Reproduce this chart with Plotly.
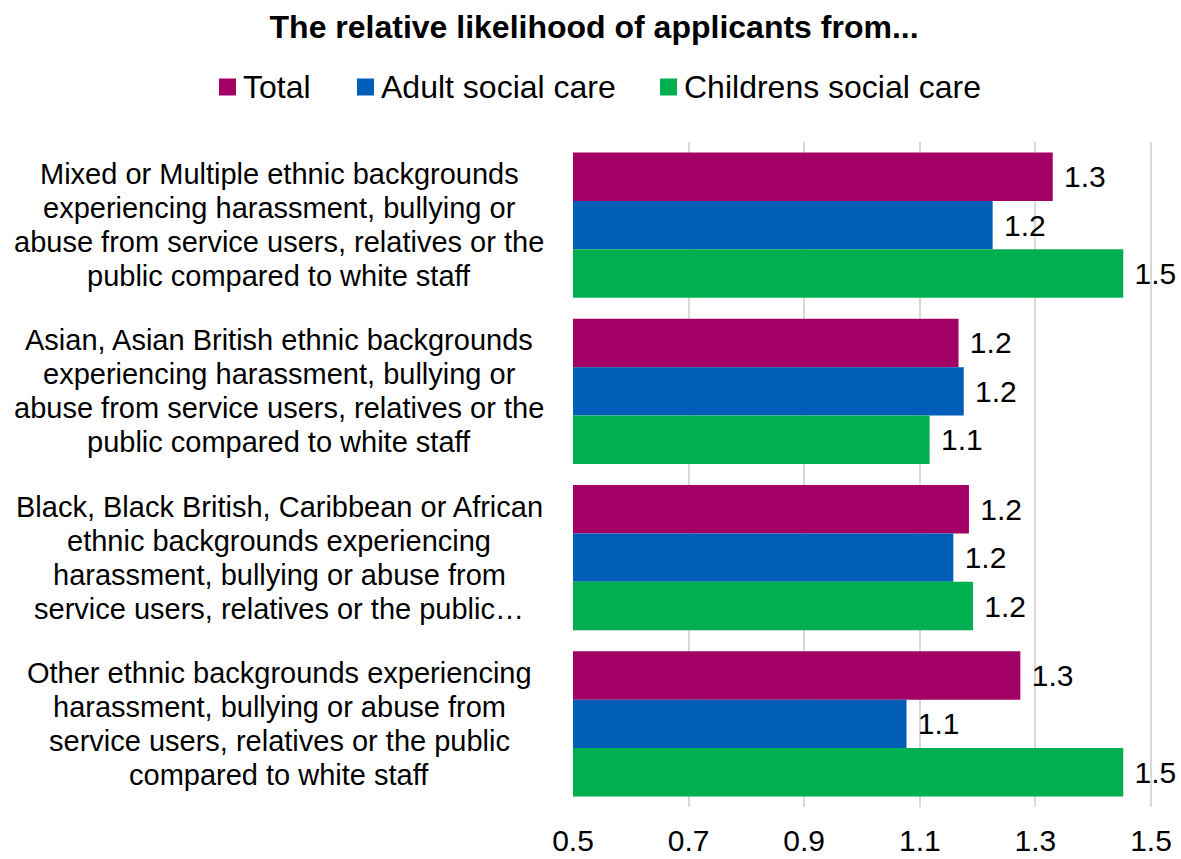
import plotly.graph_objects as go

# Categories (top to bottom) and their wrapped label lines
categories = ["Mixed", "Asian", "Black", "Other"]
category_lines = [
    ["Mixed or Multiple ethnic backgrounds",
     "experiencing harassment, bullying or",
     "abuse from service users, relatives or the",
     "public compared to white staff"],
    ["Asian, Asian British ethnic backgrounds",
     "experiencing harassment, bullying or",
     "abuse from service users, relatives or the",
     "public compared to white staff"],
    ["Black, Black British, Caribbean or African",
     "ethnic backgrounds experiencing",
     "harassment, bullying or abuse from",
     "service users, relatives or the public…"],
    ["Other ethnic backgrounds experiencing",
     "harassment, bullying or abuse from",
     "service users, relatives or the public",
     "compared to white staff"],
]

# Relative likelihood values per series
total = [1.33, 1.167, 1.185, 1.274]
adult_social_care = [1.226, 1.176, 1.158, 1.077]
childrens_social_care = [1.452, 1.117, 1.192, 1.452]

x_ticks = [0.5, 0.7, 0.9, 1.1, 1.3, 1.5]
title_text = "The relative likelihood of applicants from..."

series = [
    ("Total", total, "#A20065"),
    ("Adult social care", adult_social_care, "#005EB8"),
    ("Childrens social care", childrens_social_care, "#00B050"),
]

FONT = "Liberation Sans, Arial, sans-serif"
W, H = 1181, 859
ML, MR, MT, MB = 573, 0, 142, 52
PW, PH = W - ML - MR, H - MT - MB
X_MIN = 0.5
X_MAX = X_MIN + PW / 578.0  # 578 px per unit keeps 1.5 near the right edge


def px_to_paper_x(px):
    return (px - ML) / PW


def py_to_paper_y(py):
    return (H - MB - py) / PH


fig = go.Figure()
for name, values, color in series:
    fig.add_trace(go.Bar(
        name=name,
        y=categories,
        x=values,
        orientation="h",
        marker=dict(color=color, line=dict(width=0)),
        texttemplate="\u00a0%{x:.1f}",
        textposition="outside",
        constraintext="none",
        textfont=dict(size=30, color="#000000", family=FONT),
        cliponaxis=False,
        showlegend=False,
    ))

# Category labels: one centred annotation per line
LINE_STEP = 34
for cat, lines in zip(categories, category_lines):
    n = len(lines)
    for i, line in enumerate(lines):
        fig.add_annotation(
            x=px_to_paper_x(279), xref="paper", y=cat, yref="y",
            yshift=((n - 1) / 2 - i) * LINE_STEP,
            text=line, showarrow=False, align="center",
            xanchor="center", yanchor="middle",
            font=dict(size=29, color="#000000", family=FONT),
        )

# Legend row: coloured square followed by the series name
legend_left = [219, 357, 660]
SQ = 17
LEG_Y = 87
for (name, _, color), left in zip(series, legend_left):
    fig.add_shape(
        type="rect", xref="paper", yref="paper",
        x0=px_to_paper_x(left), x1=px_to_paper_x(left + SQ),
        y0=py_to_paper_y(LEG_Y + SQ / 2), y1=py_to_paper_y(LEG_Y - SQ / 2),
        fillcolor=color, line=dict(width=0),
    )
    fig.add_annotation(
        x=px_to_paper_x(left + SQ + 5), xref="paper",
        y=py_to_paper_y(LEG_Y), yref="paper",
        text=name, showarrow=False, xanchor="left", yanchor="middle",
        font=dict(size=32, color="#000000", family=FONT),
    )

fig.update_layout(
    width=W, height=H,
    paper_bgcolor="white", plot_bgcolor="white",
    font=dict(family=FONT, color="#000000"),
    margin=dict(l=ML, r=MR, t=MT, b=MB, autoexpand=False),
    barmode="group",
    bargap=0.125,
    bargroupgap=0,
    showlegend=False,
    title=dict(
        text=f"<b>{title_text}</b>",
        x=0.503, xanchor="center", xref="container",
        y=1 - 27 / H, yanchor="middle", yref="container",
        font=dict(size=32, color="#000000", family=FONT),
        automargin=False,
    ),
)

fig.update_xaxes(
    range=[X_MIN, X_MAX], tickvals=x_ticks, ticktext=[f"{v:.1f}" for v in x_ticks],
    showgrid=True, gridcolor="#D9D9D9", gridwidth=2,
    zeroline=False, showline=False, automargin=False,
    ticks="", ticklabelstandoff=13,
    tickfont=dict(size=30, color="#000000", family=FONT),
)
fig.update_yaxes(
    autorange="reversed", showticklabels=False, showgrid=False,
    zeroline=False, showline=False, automargin=False,
)

fig.write_html("out.html")
